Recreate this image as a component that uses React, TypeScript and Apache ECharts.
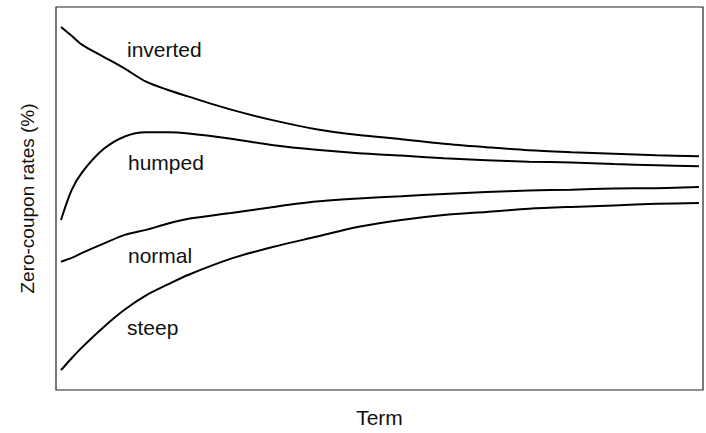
import React, { useEffect, useRef } from "react";
import * as echarts from "echarts";

const terms = [0, 0.5, 1, 2, 3, 4, 5, 6, 8, 10, 12, 14, 16, 18, 20, 22, 24, 26, 28, 30];
const inverted = [9.48, 9.25, 9.01, 8.7, 8.39, 8.05, 7.84, 7.66, 7.32, 7.04, 6.81, 6.66, 6.55, 6.43, 6.34, 6.26, 6.21, 6.17, 6.13, 6.1];
const humped = [4.44, 5.22, 5.69, 6.29, 6.62, 6.73, 6.73, 6.7, 6.56, 6.39, 6.27, 6.18, 6.12, 6.05, 6.0, 5.96, 5.94, 5.9, 5.87, 5.84];
const normal = [3.35, 3.45, 3.58, 3.82, 4.05, 4.18, 4.34, 4.47, 4.62, 4.78, 4.92, 5.0, 5.06, 5.12, 5.17, 5.21, 5.23, 5.26, 5.27, 5.3];
const steep = [0.52, 0.83, 1.12, 1.64, 2.1, 2.47, 2.75, 3.01, 3.43, 3.74, 4.0, 4.26, 4.44, 4.57, 4.65, 4.73, 4.78, 4.82, 4.86, 4.88];
const curveNames = ["inverted", "humped", "normal", "steep"];
const xTitle = "Term";
const yTitle = "Zero-coupon rates (%)";

const FONT = "'Liberation Sans', Arial, sans-serif";

export default function App() {
  const ref = useRef<HTMLDivElement>(null);
  useEffect(() => {
    if (!ref.current) return;
    const chart = echarts.init(ref.current, undefined, { renderer: "svg" });
    const all = [inverted, humped, normal, steep];
    const labelPos = [
      [127, 57],
      [128, 170],
      [128, 263],
      [127, 335],
    ];
    chart.setOption({
      animation: false,
      backgroundColor: "#fff",
      grid: {
        left: 56,
        top: 7,
        right: 3,
        bottom: 41,
        show: true,
        borderColor: "#222",
        borderWidth: 1.2,
      },
      xAxis: {
        type: "value",
        min: -0.235,
        max: 30.19,
        name: xTitle,
        nameLocation: "middle",
        nameGap: 17,
        nameTextStyle: { fontFamily: FONT, fontSize: 21, color: "#111" },
        axisLine: { show: false },
        axisTick: { show: false },
        axisLabel: { show: false },
        splitLine: { show: false },
      },
      yAxis: {
        type: "value",
        min: 0,
        max: 10,
        name: yTitle,
        nameLocation: "middle",
        nameGap: 19,
        nameTextStyle: { fontFamily: FONT, fontSize: 19, color: "#111" },
        axisLine: { show: false },
        axisTick: { show: false },
        axisLabel: { show: false },
        splitLine: { show: false },
      },
      series: all.map((vals, i) => ({
        name: curveNames[i],
        type: "line",
        data: terms.map((t, j) => [t, vals[j]]),
        showSymbol: false,
        smooth: 0.3,
        lineStyle: { color: "#000", width: 2 },
      })),
      graphic: curveNames.map((n, i) => ({
        type: "text",
        x: labelPos[i][0],
        y: labelPos[i][1] - 18,
        style: {
          text: n,
          fontFamily: FONT,
          fontSize: 21,
          fill: "#111",
          verticalAlign: "top",
        },
      })),
    });
    return () => chart.dispose();
  }, []);
  return <div ref={ref} style={{ width: 706, height: 433, position: "absolute", left: 0, top: 0 }} />;
}
